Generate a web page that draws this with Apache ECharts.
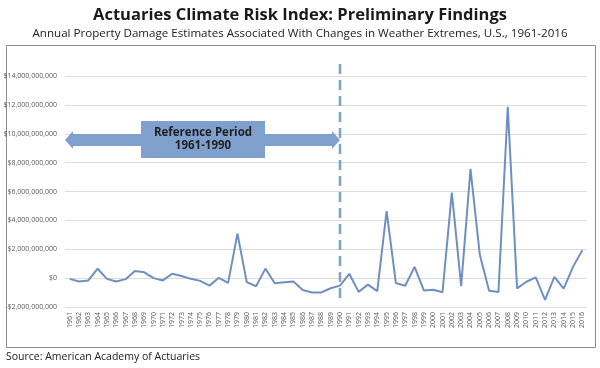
<!DOCTYPE html>
<html>
<head>
<meta charset="utf-8">
<script src="https://cdn.jsdelivr.net/npm/echarts@6/dist/echarts.min.js"></script>
<style>
html,body{margin:0;padding:0;background:#fff;}
#chart{width:600px;height:368px;}
</style>
</head>
<body>
<div id="chart"></div>
<script>
// Data (damage estimates in billions of US dollars)
const years = ['1961','1962','1963','1964','1965','1966','1967','1968','1969','1970',
  '1971','1972','1973','1974','1975','1976','1977','1978','1979','1980',
  '1981','1982','1983','1984','1985','1986','1987','1988','1989','1990',
  '1991','1992','1993','1994','1995','1996','1997','1998','1999','2000',
  '2001','2002','2003','2004','2005','2006','2007','2008','2009','2010',
  '2011','2012','2013','2014','2015','2016'];
const damageBillions = [-0.05,-0.23,-0.16,0.65,-0.05,-0.23,-0.07,0.5,0.4,0.0,
  -0.16,0.3,0.15,-0.05,-0.19,-0.52,0.02,-0.33,3.08,-0.28,
  -0.56,0.66,-0.35,-0.28,-0.24,-0.82,-0.99,-0.99,-0.7,-0.52,
  0.3,-0.95,-0.45,-0.9,4.64,-0.34,-0.53,0.78,-0.85,-0.8,
  -0.98,5.93,-0.55,7.56,1.62,-0.88,-0.96,11.86,-0.71,-0.25,
  0.05,-1.5,0.08,-0.73,0.78,1.94];
const yTicks = [-2,0,2,4,6,8,10,12,14];
const refEndYear = '1990';
const titleText = 'Actuaries Climate Risk Index: Preliminary Findings';
const subtitleText = 'Annual Property Damage Estimates Associated With Changes in Weather Extremes, U.S., 1961-2016';
const sourceText = 'Source: American Academy of Actuaries';
const refLabel = 'Reference Period\n1961-1990';

function fmtDollars(b){
  if (b === 0) return '$0';
  const v = Math.abs(b) * 1e9;
  const s = '$' + v.toLocaleString('en-US');
  return (b < 0 ? '-' : '') + s;
}

const chart = echarts.init(document.getElementById('chart'));
const FONT = '"Open Sans", "Noto Sans", sans-serif';
chart.setOption({
  animation: false,
  backgroundColor: '#fff',
  title: [
    {text: titleText, left: 'center', top: 2,
     textStyle: {fontFamily: FONT, fontWeight: 'bold', fontSize: 16.5, color: '#1a1a1a'}},
    {text: subtitleText, left: 'center', top: 23,
     textStyle: {fontFamily: FONT, fontWeight: 'normal', fontSize: 11.6, color: '#222'}}
  ],
  grid: {left: 65, right: 13, top: 76, bottom: 61, containLabel: false},
  xAxis: {
    type: 'category', data: years, boundaryGap: true,
    axisLine: {show: false}, axisTick: {show: false},
    axisLabel: {rotate: 90, interval: 0, fontSize: 7, color: '#595959', fontFamily: FONT, margin: 5}
  },
  yAxis: {
    type: 'value', min: yTicks[0], max: yTicks[yTicks.length-1], interval: 2,
    axisLine: {show: false}, axisTick: {show: false},
    axisLabel: {formatter: fmtDollars, fontSize: 7, color: '#595959', fontFamily: FONT, margin: 8},
    splitLine: {lineStyle: {color: '#dcdcdc', width: 1}}
  },
  series: [{
    type: 'line', data: damageBillions, symbol: 'none',
    lineStyle: {color: '#6f8fc2', width: 2}
  }]
});

// Annotations tied to the axes
const xRef = chart.convertToPixel({xAxisIndex: 0}, refEndYear);
const xLeft = 65;
const yMid = 140;
const arrowColor = '#7f9fcd';
chart.setOption({
  graphic: [
    {type: 'rect', shape: {x: 6.5, y: 45.5, width: 589, height: 302}, style: {fill: 'none', stroke: '#8c8c8c', lineWidth: 1}, silent: true},
    {type: 'line', shape: {x1: xRef, y1: 64, x2: xRef, y2: 304},
     style: {stroke: arrowColor, lineWidth: 2.5, lineDash: [10, 6]}, silent: true},
    {type: 'polygon', shape: {points: [
      [xLeft, yMid], [xLeft + 8, yMid - 9], [xLeft + 8, yMid - 6], [xRef - 8, yMid - 6], [xRef - 8, yMid - 9],
      [xRef, yMid], [xRef - 8, yMid + 9], [xRef - 8, yMid + 6], [xLeft + 8, yMid + 6], [xLeft + 8, yMid + 9]
    ]}, style: {fill: arrowColor}, silent: true},
    {type: 'rect', shape: {x: 141, y: 121, width: 124, height: 37}, style: {fill: arrowColor}, silent: true},
    {type: 'text', x: 203, y: 139.5, style: {text: refLabel, fontFamily: FONT, fontWeight: 'bold', fontSize: 11.5, lineHeight: 13, fill: '#1f1f1f', align: 'center', verticalAlign: 'middle'}, silent: true},
    {type: 'text', x: 6, y: 357, style: {text: sourceText, fontFamily: FONT, fontSize: 10.5, fill: '#222', align: 'left', verticalAlign: 'middle'}, silent: true}
  ]
});
</script>
</body>
</html>
